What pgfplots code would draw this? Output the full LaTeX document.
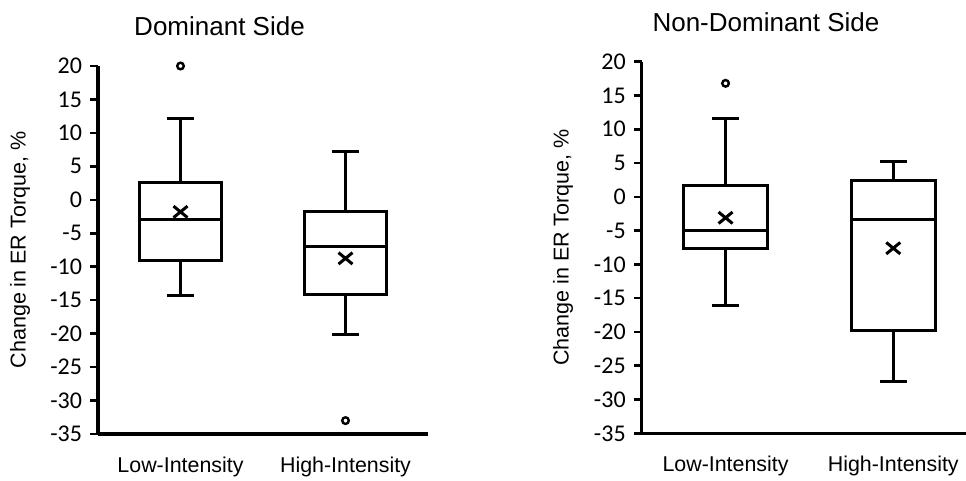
\documentclass[border=0pt]{standalone}
\usepackage{fontspec}
\setmainfont{Liberation Sans}
\newfontfamily\carlito{Carlito}
\usepackage{pgfplots}
\pgfplotsset{compat=1.18}
\usepgfplotslibrary{statistics}
\newcommand\tl[1]{{\carlito\fontsize{24}{28}\selectfont #1}}

\pgfplotsset{
  myax/.style={
    scale only axis,
    clip=false,
    xmin=-0.5, ymin=-35, ymax=20,
    axis x line=bottom, axis y line=left,
    axis line style={-, line width=3.2pt, black},
    xtick={0,1}, xticklabels={Low-Intensity,High-Intensity},
    x tick style={draw=none},
    xticklabel style={font=\fontsize{21.4}{25}\selectfont, yshift=-12pt},
    ytick={-35,-30,-25,-20,-15,-10,-5,0,5,10,15,20},
    yticklabels={\tl{-35},\tl{-30},\tl{-25},\tl{-20},\tl{-15},\tl{-10},\tl{-5},\tl{0},\tl{5},\tl{10},\tl{15},\tl{20}},
    y tick label style={xshift=-5pt},
    y tick style={line width=2.5pt, black},
    tick align=outside,
    major tick length=7.5pt,
    ylabel={Change in ER Torque, \%},
    every axis y label/.style={rotate=90, anchor=center, font=\fontsize{21.5}{25}\selectfont},
  },
  bx/.style={black, line width=3pt, solid},
  mn/.style={only marks, mark=x, mark size=9pt, line width=3pt, black,
    mark options={xscale=1.1, yscale=0.9}},
  ol/.style={only marks, mark=o, mark size=3.3pt, line width=2.4pt, black},
}

\begin{document}
\begin{tikzpicture}
\path[use as bounding box] (0pt,0pt) rectangle (966pt,480pt);

% Dominant side
\begin{axis}[myax, at={(98pt,46pt)}, anchor=south west,
  width=330pt, height=368pt, xmax=1.5,
  ylabel style={at={(axis description cs:-0.236,0.5)}}]
\addplot[bx, boxplot prepared={draw position=0, draw direction=y,
  box extend=0.5, whisker extend=0.16,
  lower whisker=-14.3, lower quartile=-9, median=-2.9,
  upper quartile=2.6, upper whisker=12.1}] coordinates {};
\addplot[bx, boxplot prepared={draw position=1, draw direction=y,
  box extend=0.5, whisker extend=0.16,
  lower whisker=-20.1, lower quartile=-14.1, median=-7.05,
  upper quartile=-1.8, upper whisker=7.25}] coordinates {};
\addplot[mn] coordinates {(0,-1.8) (1,-8.75)};
\addplot[ol] coordinates {(0,20) (1,-33)};
\end{axis}

% Non-dominant side
\begin{axis}[myax, at={(641.7pt,46.7pt)}, anchor=south west,
  width=324pt, height=371.6pt, xmax=1.432,
  ylabel style={at={(axis description cs:-0.243,0.5)}}]
\addplot[bx, boxplot prepared={draw position=0, draw direction=y,
  box extend=0.5, whisker extend=0.16,
  lower whisker=-16.1, lower quartile=-7.6, median=-4.95,
  upper quartile=1.7, upper whisker=11.6}] coordinates {};
\addplot[bx, boxplot prepared={draw position=1, draw direction=y,
  box extend=0.5, whisker extend=0.16,
  lower whisker=-27.3, lower quartile=-19.8, median=-3.3,
  upper quartile=2.4, upper whisker=5.3}] coordinates {};
\addplot[mn] coordinates {(0,-3.1) (1,-7.6)};
\addplot[ol] coordinates {(0,16.8)};
\end{axis}

\node[font=\fontsize{26}{30}\selectfont] at (219.5pt,454pt) {Dominant Side};
\node[font=\fontsize{26}{30}\selectfont] at (766pt,458pt) {Non-Dominant Side};
\end{tikzpicture}
\end{document}
